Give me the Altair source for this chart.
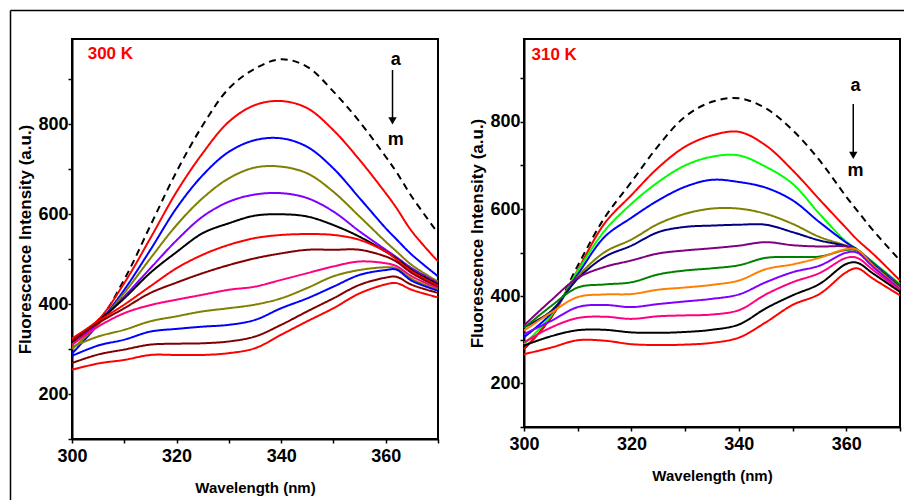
import altair as alt
import pandas as pd

wavelengths = [300, 305, 310, 315, 320, 325, 330, 335, 340, 345, 350, 355, 360, 362, 365, 370]
series_ids = list("abcdefghijklm")

# 300 K panel
left_a = [322, 362, 455, 575, 695, 798, 880, 924, 945, 928, 873, 806, 728, 695, 639, 558]
left_b = [324, 365, 447, 547, 650, 736, 806, 843, 852, 836, 787, 721, 647, 615, 562, 495]
left_c = [290, 355, 432, 521, 614, 687, 739, 765, 769, 750, 702, 636, 569, 545, 510, 462]
left_d = [300, 355, 425, 502, 576, 636, 680, 704, 706, 691, 650, 595, 539, 518, 487, 450]
left_e = [310, 358, 417, 480, 542, 595, 628, 644, 647, 636, 606, 562, 521, 505, 480, 447]
left_f = [315, 362, 413, 470, 516, 558, 580, 597, 600, 595, 576, 550, 517, 502, 476, 444]
left_g = [322, 362, 399, 440, 480, 510, 532, 547, 554, 556, 554, 543, 517, 500, 473, 441]
left_h = [318, 358, 391, 425, 448, 469, 487, 502, 513, 521, 521, 521, 506, 495, 469, 438]
left_i = [310, 350, 380, 398, 410, 421, 432, 439, 454, 469, 484, 495, 491, 485, 462, 435]
left_j = [305, 328, 343, 362, 373, 384, 391, 399, 413, 436, 462, 476, 482, 480, 456, 432]
left_k = [285, 308, 321, 339, 345, 350, 354, 365, 391, 413, 439, 465, 476, 477, 452, 430]
left_l = [269, 288, 299, 310, 312, 313, 317, 328, 354, 384, 413, 443, 459, 461, 443, 425]
left_m = [254, 268, 276, 287, 287, 287, 291, 302, 332, 362, 391, 424, 444, 447, 432, 415]

# 310 K panel
right_a = [279, 350, 470, 580, 662, 745, 812, 846, 854, 831, 781, 712, 628, 597, 551, 482]
right_b = [279, 350, 460, 567, 632, 695, 743, 769, 777, 746, 689, 622, 556, 530, 497, 436]
right_c = [290, 355, 458, 550, 612, 662, 700, 720, 723, 697, 658, 589, 525, 508, 478, 428]
right_d = [306, 360, 450, 536, 580, 620, 651, 667, 662, 649, 620, 570, 523, 507, 476, 425]
right_e = [330, 365, 445, 501, 530, 566, 589, 601, 601, 589, 566, 536, 516, 506, 474, 423]
right_f = [329, 365, 440, 490, 516, 547, 559, 562, 564, 564, 547, 528, 515, 506, 473, 421]
right_g = [333, 390, 442, 467, 482, 498, 505, 510, 516, 524, 517, 514, 514, 506, 472, 420]
right_h = [327, 377, 420, 427, 432, 450, 459, 464, 471, 488, 490, 491, 506, 505, 471, 418]
right_i = [321, 362, 398, 404, 405, 415, 420, 426, 436, 462, 473, 488, 508, 507, 470, 417]
right_j = [313, 343, 375, 380, 375, 382, 388, 394, 404, 432, 455, 470, 500, 500, 467, 416]
right_k = [294, 328, 350, 353, 348, 354, 356, 358, 368, 404, 432, 453, 488, 488, 460, 414]
right_l = [287, 308, 322, 323, 317, 316, 318, 323, 335, 372, 402, 428, 474, 477, 452, 410]
right_m = [267, 282, 299, 298, 290, 288, 289, 293, 305, 340, 380, 405, 455, 464, 440, 402]

left_series = [left_a, left_b, left_c, left_d, left_e, left_f, left_g,
               left_h, left_i, left_j, left_k, left_l, left_m]
right_series = [right_a, right_b, right_c, right_d, right_e, right_f, right_g,
                right_h, right_i, right_j, right_k, right_l, right_m]

left_colors = ["#000000", "#FF0000", "#0000FF", "#808000", "#8000FF", "#000000", "#FF0000",
               "#800000", "#FF0080", "#808000", "#0000FF", "#800000", "#FF0000"]
right_colors = ["#000000", "#FF0000", "#00FF00", "#0000FF", "#808000", "#000080", "#800080",
                "#008000", "#FF8000", "#8000FF", "#FF0080", "#000000", "#FF0000"]

x_title = "Wavelength (nm)"
y_title = "Fluorescence Intensity (a.u.)"
FONT = "Liberation Sans"


def make_df(series_lists):
    rows = []
    for sid, vals in zip(series_ids, series_lists):
        for w, v in zip(wavelengths, vals):
            rows.append({"wl": w, "val": v, "series": sid})
    return pd.DataFrame(rows)


def panel(series_lists, colors, temp_label, temp_xy, a_xy, m_xy, arrow, width, height, frame=False):
    xs = alt.Scale(domain=[300, 370], nice=False, zero=False)
    ys = alt.Scale(domain=[100, 990], nice=False, zero=False)
    x_axis = alt.Axis(values=[300, 310, 320, 330, 340, 350, 360, 370],
                      labelExpr="(datum.value % 20 == 0 && datum.value < 370) ? datum.label : ''",
                      grid=False, title=x_title, labelPadding=4, titlePadding=15,
                      titleFontSize=15, labelFlush=False)
    y_axis = alt.Axis(values=[100, 200, 300, 400, 500, 600, 700, 800, 900],
                      labelExpr="(datum.value % 200 == 0) ? datum.label : ''",
                      grid=False, title=y_title, labelPadding=0, titlePadding=3,
                      titleFontSize=17, labelFlush=False)
    df = make_df(series_lists)
    lines = alt.Chart(df).mark_line(strokeWidth=2, interpolate="catmull-rom").encode(
        x=alt.X("wl:Q", scale=xs, axis=x_axis),
        y=alt.Y("val:Q", scale=ys, axis=y_axis),
        color=alt.Color("series:N", scale=alt.Scale(domain=series_ids, range=colors), legend=None),
        strokeDash=alt.StrokeDash("series:N",
                                  scale=alt.Scale(domain=series_ids, range=[[7, 5]] + [[1, 0]] * 12),
                                  legend=None),
        order=alt.Order("series:N"),
    )
    xe = lambda: alt.X("wl:Q", scale=xs)
    ye = lambda: alt.Y("val:Q", scale=ys)
    temp = alt.Chart(pd.DataFrame({"wl": [temp_xy[0]], "val": [temp_xy[1]], "t": [temp_label]})).mark_text(
        align="left", baseline="middle", font=FONT, fontSize=17, fontWeight="bold", color="#FF0000"
    ).encode(x=xe(), y=ye(), text="t:N")
    letters = alt.Chart(pd.DataFrame({"wl": [a_xy[0], m_xy[0]], "val": [a_xy[1], m_xy[1]], "t": ["a", "m"]})).mark_text(
        align="center", baseline="middle", font=FONT, fontSize=18, fontWeight="bold", color="black"
    ).encode(x=xe(), y=ye(), text="t:N")
    shaft = alt.Chart(pd.DataFrame({"wl": [arrow[0]], "val": [arrow[1]], "val2": [arrow[2]]})).mark_rule(
        color="black", strokeWidth=1.5
    ).encode(x=xe(), y=ye(), y2="val2:Q")
    head = alt.Chart(pd.DataFrame({"wl": [arrow[0]], "val": [arrow[3]]})).mark_point(
        shape="triangle-down", filled=True, color="black", size=70, opacity=1
    ).encode(x=xe(), y=ye())
    layers = [lines, temp, letters, shaft, head]
    if frame:
        dummy = pd.DataFrame({"k": [0]})
        top = alt.Chart(dummy).mark_rule(color="black", strokeWidth=1.5).encode(
            x=alt.value(-61.5), x2=alt.value(832), y=alt.value(-28.5))
        left = alt.Chart(dummy).mark_rule(color="black", strokeWidth=1.5).encode(
            x=alt.value(-61.5), y=alt.value(-28.5), y2=alt.value(470))
        layers += [top, left]
    return alt.layer(*layers).properties(width=width, height=height)


left_panel = panel(left_series, left_colors, "300 K", (303, 957), (361.9, 944), (361.9, 766),
                   (361.3, 921, 805, 808), 366, 400, frame=True)
right_panel = panel(right_series, right_colors, "310 K", (301.4, 953), (361.7, 882), (361.7, 687),
                    (361.3, 841, 725, 723), 376, 388)

chart = alt.hconcat(left_panel, right_panel, spacing=86, bounds="flush").resolve_scale(
    color="independent", strokeDash="independent"
).properties(padding=0).configure_view(
    stroke="black", strokeWidth=2
).configure_axis(
    domainColor="black", domainWidth=2, tickColor="black", tickWidth=1.5, tickSize=4,
    labelFont=FONT, labelFontSize=18, labelFontWeight="bold", labelColor="black",
    titleFont=FONT, titleFontWeight="bold", titleColor="black"
)

chart.save("out.html", embed_options={"renderer": "svg", "actions": False})
